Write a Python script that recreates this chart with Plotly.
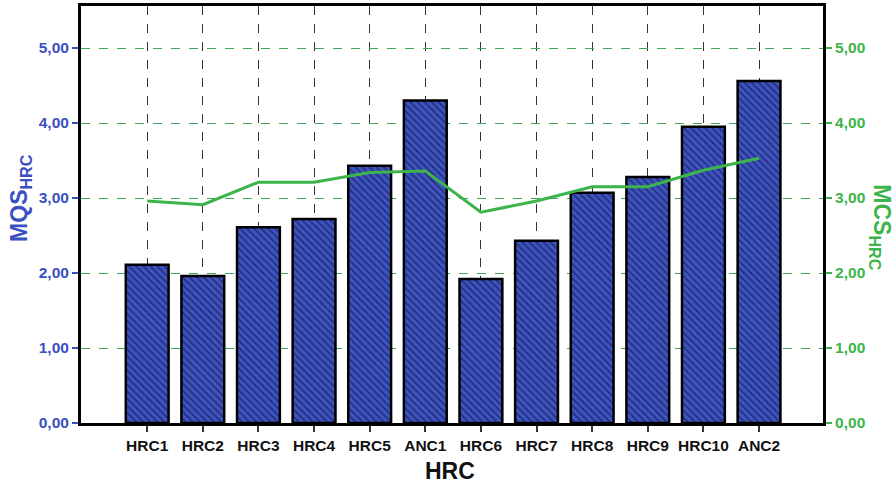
import plotly.graph_objects as go

categories = ["HRC1", "HRC2", "HRC3", "HRC4", "HRC5", "ANC1", "HRC6", "HRC7", "HRC8", "HRC9", "HRC10", "ANC2"]
mqs_values = [2.11, 1.96, 2.61, 2.72, 3.43, 4.30, 1.92, 2.43, 3.07, 3.28, 3.95, 4.56]
mcs_values = [2.96, 2.91, 3.21, 3.21, 3.34, 3.36, 2.81, 2.96, 3.15, 3.15, 3.37, 3.53]
y_ticks = [0, 1, 2, 3, 4, 5]

BLUE = "#3a4fc0"
GREEN = "#3cb44b"
FONT = "Liberation Sans, Arial, sans-serif"

fig = go.Figure()
fig.add_trace(go.Bar(
    x=categories, y=mqs_values, width=0.77,
    marker=dict(color="#3d53c4", line=dict(color="black", width=2.5),
                pattern=dict(shape="\\", fgcolor="#0a0a1a", bgcolor="#3d53c4", size=5, solidity=0.33)),
    yaxis="y", showlegend=False,
))
fig.add_trace(go.Scatter(
    x=categories, y=mcs_values, mode="lines",
    line=dict(color=GREEN, width=3), yaxis="y2", showlegend=False,
))

fig.update_layout(
    width=896, height=488,
    margin=dict(l=81, r=73, t=6, b=65, autoexpand=False),
    paper_bgcolor="white", plot_bgcolor="white",
    separators=",.",
    font=dict(family=FONT),
    xaxis=dict(
        type="category", range=[-1.19, 12.15], automargin=False,
        showgrid=True, gridcolor="#333333", griddash="dash", gridwidth=1,
        showline=True, linecolor="black", linewidth=3, mirror=True,
        ticks="outside", ticklen=6, tickcolor="#333333", tickwidth=1.5,
        tickfont=dict(family=FONT, size=15.5, color="#111111", weight="bold"),
        title=None,
    ),
    yaxis=dict(
        range=[0, 5.56], tickvals=y_ticks, tickformat=".2f", automargin=False,
        showgrid=True, gridcolor="#3aaa5a", griddash="dash", gridwidth=1,
        showline=True, linecolor="black", linewidth=3,
        ticks="outside", ticklen=6, tickcolor=BLUE, tickwidth=1.5,
        tickfont=dict(family=FONT, size=15.5, color=BLUE, weight="bold"),
        zeroline=False,
    ),
    yaxis2=dict(
        overlaying="y", side="right", range=[0, 5.56], tickvals=y_ticks, tickformat=".2f",
        automargin=False,
        showgrid=False, showline=True, linecolor="black", linewidth=3,
        ticks="outside", ticklen=6, tickcolor=GREEN, tickwidth=1.5,
        tickfont=dict(family=FONT, size=15.5, color=GREEN, weight="bold"),
        zeroline=False,
    ),
    annotations=[
        dict(text="<b>HRC</b>", x=0.497, xref="paper", y=-0.115, yref="paper", showarrow=False,
             yanchor="middle", font=dict(family=FONT, size=23, color="#111111")),
        dict(text="<b>MQS<sub>HRC</sub></b>", textangle=-90, xref="paper", yref="paper",
             x=-0.103, y=0.54, showarrow=False, font=dict(family=FONT, size=23, color=BLUE)),
        dict(text="<b>MCS<sub>HRC</sub></b>", textangle=90, xref="paper", yref="paper",
             x=1.1, y=0.47, showarrow=False, font=dict(family=FONT, size=23, color=GREEN)),
    ],
)

fig.write_html("out.html", config={"displayModeBar": False},
               post_script="document.body.style.margin='0px';")
